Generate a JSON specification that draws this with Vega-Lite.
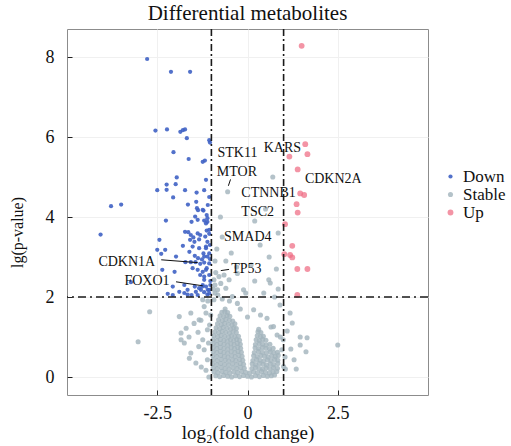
{
  "$schema": "https://vega.github.io/schema/vega-lite/v6.json",
  "width": 361,
  "height": 366,
  "autosize": {"type": "none"},
  "padding": {"left": 67, "top": 29, "right": 83, "bottom": 51},
  "title": {"text": "Differential metabolites", "font": "Liberation Serif", "fontSize": 21, "fontWeight": "normal", "color": "#111", "anchor": "middle", "offset": 4},
  "datasets": {
    "pts": [
      {"x":-0.88,"y":0.03,"g":"Stable"},{"x":-0.77,"y":0.01,"g":"Stable"},{"x":-0.66,"y":0.04,"g":"Stable"},{"x":-0.55,"y":0.02,"g":"Stable"},{"x":-0.44,"y":0.0,"g":"Stable"},{"x":-0.33,"y":0.03,"g":"Stable"},{"x":-0.22,"y":0.01,"g":"Stable"},{"x":-0.11,"y":0.04,"g":"Stable"},{"x":0.0,"y":0.02,"g":"Stable"},{"x":0.11,"y":0.0,"g":"Stable"},{"x":0.22,"y":0.03,"g":"Stable"},{"x":0.33,"y":0.01,"g":"Stable"},{"x":0.44,"y":0.04,"g":"Stable"},{"x":0.55,"y":0.02,"g":"Stable"},{"x":0.66,"y":0.03,"g":"Stable"},{"x":0.75,"y":0.05,"g":"Stable"},
      {"x":-0.93,"y":0.13,"g":"Stable"},{"x":-0.82,"y":0.11,"g":"Stable"},{"x":-0.71,"y":0.14,"g":"Stable"},{"x":-0.6,"y":0.12,"g":"Stable"},{"x":-0.49,"y":0.1,"g":"Stable"},{"x":-0.38,"y":0.13,"g":"Stable"},{"x":-0.27,"y":0.11,"g":"Stable"},{"x":-0.16,"y":0.14,"g":"Stable"},{"x":-0.05,"y":0.12,"g":"Stable"},{"x":0.06,"y":0.1,"g":"Stable"},{"x":0.17,"y":0.13,"g":"Stable"},{"x":0.28,"y":0.11,"g":"Stable"},{"x":0.39,"y":0.14,"g":"Stable"},{"x":0.5,"y":0.12,"g":"Stable"},{"x":0.61,"y":0.1,"g":"Stable"},{"x":0.71,"y":0.13,"g":"Stable"},{"x":0.81,"y":0.14,"g":"Stable"},
      {"x":-0.95,"y":0.23,"g":"Stable"},{"x":-0.84,"y":0.21,"g":"Stable"},{"x":-0.73,"y":0.24,"g":"Stable"},{"x":-0.62,"y":0.22,"g":"Stable"},{"x":-0.51,"y":0.2,"g":"Stable"},{"x":-0.4,"y":0.23,"g":"Stable"},{"x":-0.29,"y":0.21,"g":"Stable"},{"x":-0.19,"y":0.24,"g":"Stable"},{"x":-0.09,"y":0.22,"g":"Stable"},{"x":0.12,"y":0.21,"g":"Stable"},{"x":0.22,"y":0.24,"g":"Stable"},{"x":0.32,"y":0.22,"g":"Stable"},{"x":0.42,"y":0.2,"g":"Stable"},{"x":0.52,"y":0.23,"g":"Stable"},{"x":0.62,"y":0.21,"g":"Stable"},{"x":0.72,"y":0.24,"g":"Stable"},{"x":0.83,"y":0.22,"g":"Stable"},
      {"x":-0.96,"y":0.33,"g":"Stable"},{"x":-0.85,"y":0.31,"g":"Stable"},{"x":-0.74,"y":0.34,"g":"Stable"},{"x":-0.63,"y":0.32,"g":"Stable"},{"x":-0.52,"y":0.3,"g":"Stable"},{"x":-0.41,"y":0.33,"g":"Stable"},{"x":-0.3,"y":0.31,"g":"Stable"},{"x":-0.2,"y":0.34,"g":"Stable"},{"x":-0.11,"y":0.32,"g":"Stable"},{"x":0.13,"y":0.33,"g":"Stable"},{"x":0.23,"y":0.31,"g":"Stable"},{"x":0.33,"y":0.34,"g":"Stable"},{"x":0.43,"y":0.32,"g":"Stable"},{"x":0.53,"y":0.3,"g":"Stable"},{"x":0.63,"y":0.33,"g":"Stable"},{"x":0.73,"y":0.31,"g":"Stable"},{"x":0.84,"y":0.34,"g":"Stable"},
      {"x":-0.95,"y":0.43,"g":"Stable"},{"x":-0.84,"y":0.41,"g":"Stable"},{"x":-0.73,"y":0.44,"g":"Stable"},{"x":-0.62,"y":0.42,"g":"Stable"},{"x":-0.52,"y":0.4,"g":"Stable"},{"x":-0.42,"y":0.43,"g":"Stable"},{"x":-0.32,"y":0.41,"g":"Stable"},{"x":-0.22,"y":0.44,"g":"Stable"},{"x":-0.13,"y":0.42,"g":"Stable"},{"x":0.15,"y":0.41,"g":"Stable"},{"x":0.25,"y":0.44,"g":"Stable"},{"x":0.35,"y":0.42,"g":"Stable"},{"x":0.45,"y":0.4,"g":"Stable"},{"x":0.55,"y":0.43,"g":"Stable"},{"x":0.65,"y":0.41,"g":"Stable"},{"x":0.75,"y":0.44,"g":"Stable"},{"x":0.84,"y":0.42,"g":"Stable"},
      {"x":-0.96,"y":0.53,"g":"Stable"},{"x":-0.85,"y":0.51,"g":"Stable"},{"x":-0.74,"y":0.54,"g":"Stable"},{"x":-0.64,"y":0.52,"g":"Stable"},{"x":-0.54,"y":0.5,"g":"Stable"},{"x":-0.44,"y":0.53,"g":"Stable"},{"x":-0.34,"y":0.51,"g":"Stable"},{"x":-0.24,"y":0.54,"g":"Stable"},{"x":-0.15,"y":0.52,"g":"Stable"},{"x":0.17,"y":0.53,"g":"Stable"},{"x":0.27,"y":0.51,"g":"Stable"},{"x":0.37,"y":0.54,"g":"Stable"},{"x":0.47,"y":0.52,"g":"Stable"},{"x":0.57,"y":0.5,"g":"Stable"},{"x":0.67,"y":0.53,"g":"Stable"},{"x":0.77,"y":0.51,"g":"Stable"},{"x":0.85,"y":0.54,"g":"Stable"},
      {"x":-0.95,"y":0.63,"g":"Stable"},{"x":-0.85,"y":0.61,"g":"Stable"},{"x":-0.75,"y":0.64,"g":"Stable"},{"x":-0.65,"y":0.62,"g":"Stable"},{"x":-0.55,"y":0.6,"g":"Stable"},{"x":-0.45,"y":0.63,"g":"Stable"},{"x":-0.35,"y":0.61,"g":"Stable"},{"x":-0.26,"y":0.64,"g":"Stable"},{"x":-0.17,"y":0.62,"g":"Stable"},{"x":0.19,"y":0.61,"g":"Stable"},{"x":0.3,"y":0.64,"g":"Stable"},{"x":0.41,"y":0.62,"g":"Stable"},{"x":0.52,"y":0.6,"g":"Stable"},{"x":0.63,"y":0.63,"g":"Stable"},{"x":0.73,"y":0.61,"g":"Stable"},{"x":0.83,"y":0.62,"g":"Stable"},
      {"x":-0.95,"y":0.73,"g":"Stable"},{"x":-0.85,"y":0.71,"g":"Stable"},{"x":-0.75,"y":0.74,"g":"Stable"},{"x":-0.65,"y":0.72,"g":"Stable"},{"x":-0.55,"y":0.7,"g":"Stable"},{"x":-0.45,"y":0.73,"g":"Stable"},{"x":-0.36,"y":0.71,"g":"Stable"},{"x":-0.27,"y":0.74,"g":"Stable"},{"x":-0.19,"y":0.72,"g":"Stable"},{"x":0.21,"y":0.73,"g":"Stable"},{"x":0.31,"y":0.71,"g":"Stable"},{"x":0.41,"y":0.74,"g":"Stable"},{"x":0.51,"y":0.72,"g":"Stable"},{"x":0.61,"y":0.7,"g":"Stable"},{"x":0.71,"y":0.72,"g":"Stable"},
      {"x":-0.95,"y":0.83,"g":"Stable"},{"x":-0.85,"y":0.81,"g":"Stable"},{"x":-0.75,"y":0.84,"g":"Stable"},{"x":-0.65,"y":0.82,"g":"Stable"},{"x":-0.55,"y":0.8,"g":"Stable"},{"x":-0.46,"y":0.83,"g":"Stable"},{"x":-0.37,"y":0.81,"g":"Stable"},{"x":-0.28,"y":0.84,"g":"Stable"},{"x":-0.2,"y":0.82,"g":"Stable"},{"x":0.22,"y":0.81,"g":"Stable"},{"x":0.32,"y":0.84,"g":"Stable"},{"x":0.42,"y":0.82,"g":"Stable"},{"x":0.52,"y":0.8,"g":"Stable"},{"x":0.62,"y":0.82,"g":"Stable"},
      {"x":-0.95,"y":0.93,"g":"Stable"},{"x":-0.85,"y":0.91,"g":"Stable"},{"x":-0.75,"y":0.94,"g":"Stable"},{"x":-0.65,"y":0.92,"g":"Stable"},{"x":-0.56,"y":0.9,"g":"Stable"},{"x":-0.47,"y":0.93,"g":"Stable"},{"x":-0.38,"y":0.91,"g":"Stable"},{"x":-0.3,"y":0.94,"g":"Stable"},{"x":-0.22,"y":0.92,"g":"Stable"},{"x":0.24,"y":0.93,"g":"Stable"},{"x":0.33,"y":0.91,"g":"Stable"},{"x":0.42,"y":0.94,"g":"Stable"},{"x":0.51,"y":0.92,"g":"Stable"},
      {"x":-0.93,"y":1.03,"g":"Stable"},{"x":-0.83,"y":1.01,"g":"Stable"},{"x":-0.73,"y":1.04,"g":"Stable"},{"x":-0.63,"y":1.02,"g":"Stable"},{"x":-0.53,"y":1.0,"g":"Stable"},{"x":-0.44,"y":1.03,"g":"Stable"},{"x":-0.35,"y":1.01,"g":"Stable"},{"x":-0.25,"y":1.02,"g":"Stable"},{"x":0.27,"y":1.03,"g":"Stable"},{"x":0.36,"y":1.01,"g":"Stable"},{"x":0.44,"y":1.02,"g":"Stable"},
      {"x":-0.9,"y":1.13,"g":"Stable"},{"x":-0.8,"y":1.11,"g":"Stable"},{"x":-0.7,"y":1.14,"g":"Stable"},{"x":-0.6,"y":1.12,"g":"Stable"},{"x":-0.5,"y":1.1,"g":"Stable"},{"x":-0.4,"y":1.13,"g":"Stable"},{"x":-0.31,"y":1.11,"g":"Stable"},{"x":0.29,"y":1.13,"g":"Stable"},{"x":0.37,"y":1.11,"g":"Stable"},
      {"x":-0.87,"y":1.23,"g":"Stable"},{"x":-0.77,"y":1.21,"g":"Stable"},{"x":-0.67,"y":1.24,"g":"Stable"},{"x":-0.57,"y":1.22,"g":"Stable"},{"x":-0.47,"y":1.2,"g":"Stable"},{"x":-0.38,"y":1.23,"g":"Stable"},{"x":-0.31,"y":1.21,"g":"Stable"},{"x":0.31,"y":1.19,"g":"Stable"},
      {"x":-0.83,"y":1.33,"g":"Stable"},{"x":-0.73,"y":1.31,"g":"Stable"},{"x":-0.63,"y":1.34,"g":"Stable"},{"x":-0.53,"y":1.32,"g":"Stable"},{"x":-0.43,"y":1.3,"g":"Stable"},{"x":-0.35,"y":1.33,"g":"Stable"},
      {"x":-0.8,"y":1.43,"g":"Stable"},{"x":-0.7,"y":1.41,"g":"Stable"},{"x":-0.6,"y":1.44,"g":"Stable"},{"x":-0.5,"y":1.42,"g":"Stable"},{"x":-0.41,"y":1.4,"g":"Stable"},
      {"x":-0.76,"y":1.53,"g":"Stable"},{"x":-0.66,"y":1.51,"g":"Stable"},{"x":-0.57,"y":1.54,"g":"Stable"},{"x":-0.49,"y":1.52,"g":"Stable"},
      {"x":-0.71,"y":1.62,"g":"Stable"},{"x":-0.63,"y":1.63,"g":"Stable"},{"x":-0.55,"y":1.61,"g":"Stable"},{"x":-0.62,"y":1.7,"g":"Stable"},
      {"x":-1.84,"y":1.1,"g":"Stable"},{"x":-1.7,"y":1.22,"g":"Stable"},{"x":-1.62,"y":1.0,"g":"Stable"},{"x":-1.48,"y":1.34,"g":"Stable"},{"x":-1.37,"y":1.12,"g":"Stable"},{"x":-1.29,"y":1.42,"g":"Stable"},{"x":-1.24,"y":0.93,"g":"Stable"},{"x":-1.2,"y":0.68,"g":"Stable"},{"x":-1.15,"y":1.6,"g":"Stable"},{"x":-1.11,"y":1.18,"g":"Stable"},{"x":-1.11,"y":0.43,"g":"Stable"},{"x":-1.35,"y":0.76,"g":"Stable"},{"x":-1.57,"y":0.6,"g":"Stable"},{"x":-1.2,"y":1.76,"g":"Stable"},{"x":-1.24,"y":1.93,"g":"Stable"},{"x":-1.57,"y":1.6,"g":"Stable"},{"x":-1.75,"y":0.85,"g":"Stable"},{"x":-1.43,"y":0.35,"g":"Stable"},{"x":-1.15,"y":0.17,"g":"Stable"},{"x":-1.07,"y":0.0,"g":"Stable"},{"x":-2.71,"y":1.63,"g":"Stable"},{"x":-3.03,"y":0.88,"g":"Stable"},{"x":-1.89,"y":1.51,"g":"Stable"},{"x":-1.84,"y":0.93,"g":"Stable"},{"x":-1.61,"y":0.47,"g":"Stable"},{"x":-1.34,"y":1.43,"g":"Stable"},{"x":-1.05,"y":1.3,"g":"Stable"},{"x":-1.08,"y":0.85,"g":"Stable"},{"x":-1.28,"y":0.25,"g":"Stable"},{"x":-1.02,"y":1.55,"g":"Stable"},{"x":-1.1,"y":1.9,"g":"Stable"},
      {"x":-0.93,"y":1.93,"g":"Stable"},{"x":-0.83,"y":2.18,"g":"Stable"},{"x":-0.74,"y":2.34,"g":"Stable"},{"x":-0.6,"y":2.22,"g":"Stable"},{"x":-0.79,"y":2.51,"g":"Stable"},{"x":-0.65,"y":2.55,"g":"Stable"},{"x":-0.51,"y":2.43,"g":"Stable"},{"x":-0.42,"y":2.01,"g":"Stable"},{"x":-0.28,"y":1.84,"g":"Stable"},{"x":-0.93,"y":2.43,"g":"Stable"},{"x":-0.88,"y":2.61,"g":"Stable"},{"x":-0.28,"y":2.59,"g":"Stable"},{"x":-0.11,"y":2.18,"g":"Stable"},{"x":0.17,"y":1.68,"g":"Stable"},{"x":0.36,"y":1.55,"g":"Stable"},{"x":0.54,"y":1.47,"g":"Stable"},{"x":0.63,"y":2.35,"g":"Stable"},{"x":0.59,"y":2.43,"g":"Stable"},{"x":0.72,"y":1.26,"g":"Stable"},{"x":0.91,"y":1.0,"g":"Stable"},{"x":0.95,"y":0.68,"g":"Stable"},{"x":1.0,"y":0.26,"g":"Stable"},
      {"x":1.18,"y":1.6,"g":"Stable"},{"x":1.24,"y":1.35,"g":"Stable"},{"x":1.46,"y":1.0,"g":"Stable"},{"x":1.65,"y":0.98,"g":"Stable"},{"x":0.99,"y":0.93,"g":"Stable"},{"x":1.46,"y":0.8,"g":"Stable"},{"x":1.62,"y":0.63,"g":"Stable"},{"x":1.04,"y":0.5,"g":"Stable"},{"x":1.29,"y":0.43,"g":"Stable"},{"x":2.5,"y":0.8,"g":"Stable"},{"x":1.1,"y":1.15,"g":"Stable"},{"x":1.05,"y":0.2,"g":"Stable"},{"x":1.2,"y":0.7,"g":"Stable"},{"x":1.35,"y":0.2,"g":"Stable"},
      {"x":-0.85,"y":3.2,"g":"Stable"},{"x":-0.7,"y":3.5,"g":"Stable"},{"x":-0.9,"y":2.9,"g":"Stable"},{"x":-0.6,"y":2.9,"g":"Stable"},{"x":-0.45,"y":3.1,"g":"Stable"},{"x":-0.3,"y":2.75,"g":"Stable"},{"x":0.1,"y":2.8,"g":"Stable"},{"x":0.35,"y":3.3,"g":"Stable"},{"x":0.6,"y":3.0,"g":"Stable"},{"x":0.8,"y":2.7,"g":"Stable"},{"x":0.85,"y":3.6,"g":"Stable"},{"x":-0.75,"y":4.0,"g":"Stable"},{"x":-0.55,"y":4.63,"g":"Stable"},{"x":0.2,"y":3.9,"g":"Stable"},{"x":0.5,"y":4.2,"g":"Stable"},{"x":0.7,"y":5.0,"g":"Stable"},{"x":-0.9,"y":2.3,"g":"Stable"},{"x":0.85,"y":2.2,"g":"Stable"},{"x":0.9,"y":1.8,"g":"Stable"},{"x":0.75,"y":2.0,"g":"Stable"},{"x":0.45,"y":2.1,"g":"Stable"},{"x":0.2,"y":2.4,"g":"Stable"},{"x":-0.05,"y":2.1,"g":"Stable"},{"x":-0.9,"y":2.1,"g":"Stable"},{"x":-0.82,"y":2.05,"g":"Stable"},{"x":-0.95,"y":2.2,"g":"Stable"},{"x":-0.7,"y":1.95,"g":"Stable"},{"x":-0.5,"y":1.9,"g":"Stable"},{"x":-0.2,"y":1.7,"g":"Stable"},{"x":0.0,"y":1.5,"g":"Stable"},{"x":0.65,"y":1.25,"g":"Stable"},{"x":0.82,"y":1.05,"g":"Stable"},
      {"x":-2.78,"y":7.95,"g":"Down"},{"x":-2.12,"y":7.63,"g":"Down"},{"x":-1.59,"y":7.63,"g":"Down"},
      {"x":-2.55,"y":6.16,"g":"Down"},{"x":-2.23,"y":6.19,"g":"Down"},{"x":-1.86,"y":6.13,"g":"Down"},{"x":-1.79,"y":6.17,"g":"Down"},{"x":-1.73,"y":6.19,"g":"Down"},{"x":-1.68,"y":5.97,"g":"Down"},{"x":-1.06,"y":5.92,"g":"Down"},{"x":-1.04,"y":5.86,"g":"Down"},{"x":-2.05,"y":5.62,"g":"Down"},{"x":-1.63,"y":5.45,"g":"Down"},{"x":-1.24,"y":5.38,"g":"Down"},{"x":-1.18,"y":5.41,"g":"Down"},{"x":-1.96,"y":4.99,"g":"Down"},{"x":-2.24,"y":4.81,"g":"Down"},{"x":-1.99,"y":4.82,"g":"Down"},{"x":-2.5,"y":4.67,"g":"Down"},{"x":-2.24,"y":4.68,"g":"Down"},{"x":-2.06,"y":4.49,"g":"Down"},{"x":-1.73,"y":4.67,"g":"Down"},{"x":-1.41,"y":4.61,"g":"Down"},{"x":-1.2,"y":4.67,"g":"Down"},{"x":-3.78,"y":4.27,"g":"Down"},{"x":-3.5,"y":4.31,"g":"Down"},{"x":-1.65,"y":4.31,"g":"Down"},{"x":-1.42,"y":4.38,"g":"Down"},{"x":-1.4,"y":4.22,"g":"Down"},{"x":-1.37,"y":4.17,"g":"Down"},{"x":-1.22,"y":4.16,"g":"Down"},{"x":-1.13,"y":4.05,"g":"Down"},{"x":-1.45,"y":4.01,"g":"Down"},{"x":-1.38,"y":3.93,"g":"Down"},{"x":-2.26,"y":3.91,"g":"Down"},{"x":-1.55,"y":3.88,"g":"Down"},{"x":-1.2,"y":3.91,"g":"Down"},{"x":-1.11,"y":3.88,"g":"Down"},{"x":-4.07,"y":3.56,"g":"Down"},{"x":-1.73,"y":3.63,"g":"Down"},{"x":-1.64,"y":3.62,"g":"Down"},{"x":-1.13,"y":3.66,"g":"Down"},{"x":-2.44,"y":3.43,"g":"Down"},{"x":-1.57,"y":3.55,"g":"Down"},{"x":-1.5,"y":3.49,"g":"Down"},{"x":-1.38,"y":3.59,"g":"Down"},{"x":-1.31,"y":3.55,"g":"Down"},{"x":-1.17,"y":3.51,"g":"Down"},{"x":-1.06,"y":3.58,"g":"Down"},{"x":-1.59,"y":3.43,"g":"Down"},{"x":-1.47,"y":3.38,"g":"Down"},{"x":-1.34,"y":3.44,"g":"Down"},{"x":-2.5,"y":3.18,"g":"Down"},{"x":-2.28,"y":3.18,"g":"Down"},{"x":-1.79,"y":3.28,"g":"Down"},{"x":-1.52,"y":3.26,"g":"Down"},{"x":-1.34,"y":3.22,"g":"Down"},{"x":-1.15,"y":3.26,"g":"Down"},{"x":-2.39,"y":3.08,"g":"Down"},{"x":-1.98,"y":3.01,"g":"Down"},{"x":-1.61,"y":3.13,"g":"Down"},{"x":-1.46,"y":3.03,"g":"Down"},{"x":-1.22,"y":3.09,"g":"Down"},{"x":-1.11,"y":3.01,"g":"Down"},{"x":-1.37,"y":2.97,"g":"Down"},{"x":-1.26,"y":2.94,"g":"Down"},{"x":-1.72,"y":2.87,"g":"Down"},{"x":-1.57,"y":2.87,"g":"Down"},{"x":-1.44,"y":2.87,"g":"Down"},{"x":-1.31,"y":2.83,"g":"Down"},{"x":-1.2,"y":2.86,"g":"Down"},{"x":-1.06,"y":2.84,"g":"Down"},{"x":-3.23,"y":2.37,"g":"Down"},{"x":-2.36,"y":2.68,"g":"Down"},{"x":-2.02,"y":2.63,"g":"Down"},{"x":-1.52,"y":2.72,"g":"Down"},{"x":-1.38,"y":2.68,"g":"Down"},{"x":-1.24,"y":2.63,"g":"Down"},{"x":-1.13,"y":2.72,"g":"Down"},{"x":-1.31,"y":2.55,"g":"Down"},{"x":-1.2,"y":2.51,"g":"Down"},{"x":-1.06,"y":2.55,"g":"Down"},{"x":-1.24,"y":2.3,"g":"Down"},{"x":-2.07,"y":2.26,"g":"Down"},{"x":-1.75,"y":2.3,"g":"Down"},{"x":-1.66,"y":2.18,"g":"Down"},{"x":-1.46,"y":2.26,"g":"Down"},{"x":-1.34,"y":2.22,"g":"Down"},{"x":-1.15,"y":2.26,"g":"Down"},{"x":-1.06,"y":2.18,"g":"Down"},{"x":-2.21,"y":2.08,"g":"Down"},{"x":-2.07,"y":2.05,"g":"Down"},{"x":-1.89,"y":2.13,"g":"Down"},{"x":-1.75,"y":2.1,"g":"Down"},{"x":-1.66,"y":2.06,"g":"Down"},{"x":-1.43,"y":2.13,"g":"Down"},{"x":-1.29,"y":2.18,"g":"Down"},{"x":-1.2,"y":2.12,"g":"Down"},{"x":-1.11,"y":2.06,"g":"Down"},{"x":-1.03,"y":2.3,"g":"Down"},{"x":-1.55,"y":2.05,"g":"Down"},{"x":-1.38,"y":2.05,"g":"Down"},
      {"x":-1.15,"y":4.93,"g":"Down"},{"x":-1.24,"y":4.18,"g":"Down"},{"x":-1.11,"y":3.97,"g":"Down"},{"x":-1.15,"y":3.84,"g":"Down"},{"x":-1.06,"y":3.68,"g":"Down"},{"x":-1.11,"y":3.38,"g":"Down"},{"x":-1.15,"y":3.22,"g":"Down"},{"x":-1.06,"y":3.09,"g":"Down"},{"x":-1.2,"y":3.01,"g":"Down"},{"x":-1.15,"y":2.68,"g":"Down"},{"x":-1.2,"y":2.43,"g":"Down"},{"x":-1.25,"y":2.26,"g":"Down"},{"x":-1.1,"y":2.18,"g":"Down"},{"x":-1.06,"y":2.09,"g":"Down"},{"x":-1.06,"y":4.5,"g":"Down"},{"x":-1.1,"y":4.3,"g":"Down"},{"x":-1.04,"y":3.3,"g":"Down"},{"x":-1.04,"y":2.95,"g":"Down"},{"x":-1.03,"y":2.4,"g":"Down"},
      {"x":1.5,"y":8.28,"g":"Up"},{"x":1.6,"y":5.82,"g":"Up"},{"x":1.66,"y":5.57,"g":"Up"},{"x":1.16,"y":5.51,"g":"Up"},{"x":1.39,"y":5.19,"g":"Up"},{"x":1.46,"y":4.59,"g":"Up"},{"x":1.57,"y":4.55,"g":"Up"},{"x":1.36,"y":4.32,"g":"Up"},{"x":1.39,"y":4.11,"g":"Up"},{"x":1.04,"y":3.82,"g":"Up"},{"x":1.24,"y":3.28,"g":"Up"},{"x":1.02,"y":3.07,"g":"Up"},{"x":1.18,"y":3.05,"g":"Up"},{"x":1.24,"y":2.99,"g":"Up"},{"x":1.38,"y":2.7,"g":"Up"},{"x":1.66,"y":2.7,"g":"Up"},{"x":1.38,"y":2.05,"g":"Up"}
    ],
    "labels": [
      {"label":"STK11","x":-0.83,"y":5.6},{"label":"KARS","x":0.45,"y":5.72},{"label":"MTOR","x":-0.85,"y":5.13},{"label":"CTNNB1","x":-0.17,"y":4.61},{"label":"CDKN2A","x":1.59,"y":4.94},{"label":"TSC2","x":-0.17,"y":4.13},{"label":"SMAD4","x":-0.65,"y":3.51},{"label":"TP53","x":-0.45,"y":2.69},{"label":"CDKN1A","x":-4.13,"y":2.88},{"label":"FOXO1","x":-3.41,"y":2.4}
    ],
    "links": [
      {"x":-0.53,"y":4.78,"xe":-0.47,"ye":4.94},{"x":-0.74,"y":2.66,"xe":-0.51,"ye":2.69},{"x":-2.39,"y":2.93,"xe":-1.38,"ye":2.86},{"x":-1.98,"y":2.38,"xe":-1.24,"ye":2.28}
    ],
    "vlines": [{"x":-1},{"x":1}],
    "hlines": [{"y":2}]
  },
  "layer": [
    {
      "data": {"name": "pts"},
      "mark": {"type": "point", "filled": true, "shape": "circle", "strokeWidth": 0},
      "encoding": {
        "x": {"field": "x", "type": "quantitative", "scale": {"domain": [-5, 5], "nice": false, "zero": false},
              "axis": {"values": [-2.5, 0, 2.5], "title": "log₂(fold change)", "titleFontSize": 19, "labelExpr": "'' + datum.value", "labelPadding": 14, "titlePadding": 1}},
        "y": {"field": "y", "type": "quantitative", "scale": {"domain": [-0.45, 8.7], "nice": false, "zero": false},
              "axis": {"values": [0, 2, 4, 6, 8], "title": "lg(p-value)", "titleFontSize": 16, "labelPadding": 18, "titlePadding": 20, "titleY": 203}},
        "color": {"field": "g", "type": "nominal", "scale": {"domain": ["Down", "Stable", "Up"], "range": ["#3f62c4", "#a3b4bd", "#ee6b82"]},
                  "legend": {"title": null, "labelFontSize": 17, "rowPadding": 0, "symbolOpacity": 0.8}},
        "opacity": {"field": "g", "type": "nominal", "scale": {"domain": ["Down", "Stable", "Up"], "range": [0.9, 0.72, 0.9]}, "legend": null},
        "size": {"field": "g", "type": "nominal", "scale": {"domain": ["Down", "Stable", "Up"], "range": [18, 34, 18]}, "legend": null}
      }
    },
    {
      "data": {"name": "vlines"},
      "mark": {"type": "rule", "strokeDash": [7, 3, 2, 3], "strokeWidth": 1.6, "color": "#1a1a1a"},
      "encoding": {"x": {"field": "x", "type": "quantitative"}}
    },
    {
      "data": {"name": "hlines"},
      "mark": {"type": "rule", "strokeDash": [8, 4, 2, 4], "strokeWidth": 1.6, "color": "#1a1a1a"},
      "encoding": {"y": {"field": "y", "type": "quantitative"}}
    },
    {
      "data": {"name": "links"},
      "mark": {"type": "rule", "color": "#111", "strokeWidth": 1},
      "encoding": {
        "x": {"field": "x", "type": "quantitative"},
        "y": {"field": "y", "type": "quantitative"},
        "x2": {"field": "xe"},
        "y2": {"field": "ye"}
      }
    },
    {
      "data": {"name": "labels"},
      "mark": {"type": "text", "align": "left", "baseline": "middle", "font": "Liberation Serif", "fontSize": 14, "color": "#111"},
      "encoding": {
        "x": {"field": "x", "type": "quantitative"},
        "y": {"field": "y", "type": "quantitative"},
        "text": {"field": "label"}
      }
    }
  ],
  "config": {
    "view": {"stroke": "#8c8c8c", "strokeWidth": 1},
    "axis": {"labelFont": "Liberation Serif", "labelFontSize": 18, "labelColor": "#111", "titleFont": "Liberation Serif", "titleFontSize": 18, "titleFontWeight": "normal", "titleColor": "#111", "domain": false, "tickColor": "#222", "tickSize": -5, "grid": true, "gridColor": "#f0f0f0"},
    "legend": {"orient": "none", "legendX": 375, "legendY": 139, "labelFont": "Liberation Serif", "labelColor": "#111", "symbolSize": 16, "symbolType": "circle", "labelOffset": 4}
  }
}
